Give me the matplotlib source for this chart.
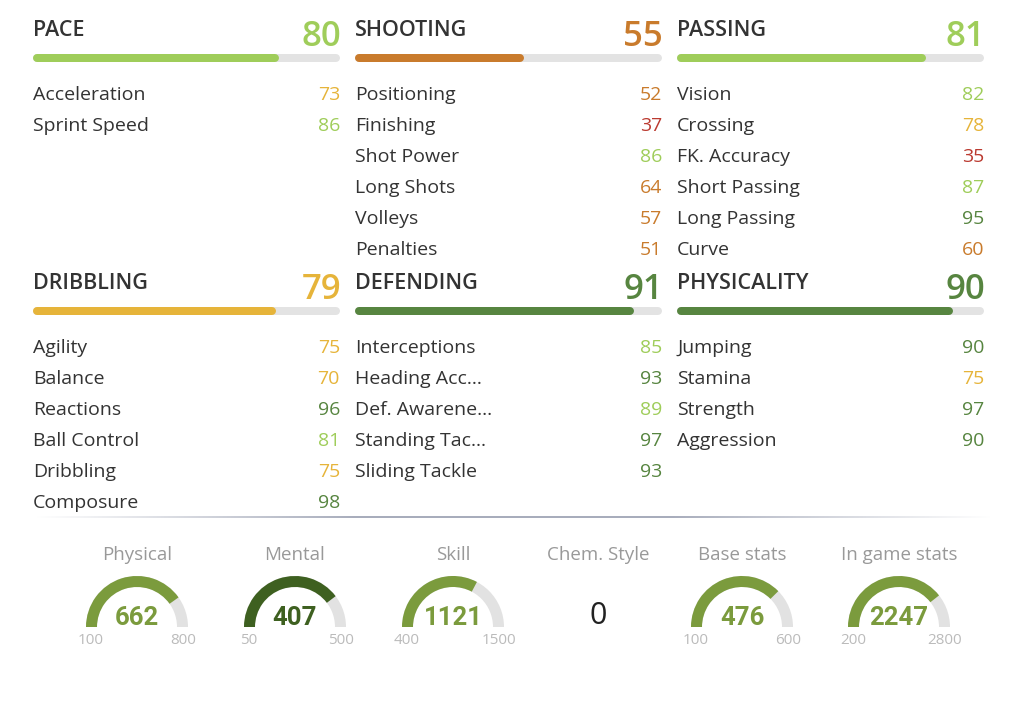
import numpy as np
import matplotlib
matplotlib.use("Agg")
import matplotlib.pyplot as plt
from matplotlib.patches import Wedge

plt.rcParams['font.family'] = ['Open Sans', 'DejaVu Sans']

# ---- data ----
sections = ["PACE", "SHOOTING", "PASSING", "DRIBBLING", "DEFENDING", "PHYSICALITY"]
section_values = [80, 55, 81, 79, 91, 90]

pace_names = ["Acceleration", "Sprint Speed"]
pace_values = [73, 86]
shooting_names = ["Positioning", "Finishing", "Shot Power", "Long Shots", "Volleys", "Penalties"]
shooting_values = [52, 37, 86, 64, 57, 51]
passing_names = ["Vision", "Crossing", "FK. Accuracy", "Short Passing", "Long Passing", "Curve"]
passing_values = [82, 78, 35, 87, 95, 60]
dribbling_names = ["Agility", "Balance", "Reactions", "Ball Control", "Dribbling", "Composure"]
dribbling_values = [75, 70, 96, 81, 75, 98]
defending_names = ["Interceptions", "Heading Acc…", "Def. Awarene…", "Standing Tac…", "Sliding Tackle"]
defending_values = [85, 93, 89, 97, 93]
physical_names = ["Jumping", "Stamina", "Strength", "Aggression"]
physical_values = [90, 75, 97, 90]

gauge_titles = ["Physical", "Mental", "Skill", "Chem. Style", "Base stats", "In game stats"]
gauge_values = [662, 407, 1121, 0, 476, 2247]
gauge_min = [100, 50, 400, None, 100, 200]
gauge_max = [800, 500, 1500, None, 600, 2800]
gauge_colors = ["#7b9b3d", "#3e6020", "#7b9b3d", None, "#7b9b3d", "#7b9b3d"]

names = [pace_names, shooting_names, passing_names, dribbling_names, defending_names, physical_names]
values = [pace_values, shooting_values, passing_values, dribbling_values, defending_values, physical_values]


def rating_color(v):
    if v >= 90:
        return "#578540"
    if v >= 80:
        return "#9fcd5a"
    if v >= 70:
        return "#e6b43a"
    if v >= 50:
        return "#c97b2c"
    return "#bb3a30"


fig = plt.figure(figsize=(10.24, 7.07), dpi=100)
ax = fig.add_axes([0, 0, 1, 1])
ax.set_xlim(0, 1024)
ax.set_ylim(707, 0)
ax.axis("off")

col_x = [33, 355, 677]
col_w = 307
block_y = [0, 253]
row_gap = 31
dark = "#333333"
bar_lw = 8 * 72 / 100

for i, sec in enumerate(sections):
    x0 = col_x[i % 3]
    y0 = block_y[i // 3]
    v = section_values[i]
    ax.text(x0, y0 + 36, sec, fontsize=15.5, fontweight="semibold", color=dark, va="baseline")
    ax.text(x0 + col_w + 1, y0 + 46, str(v), fontsize=25, fontweight="semibold",
            color=rating_color(v), ha="right", va="baseline")
    by = y0 + 57.5
    r = 4
    ax.plot([x0 + r, x0 + col_w - r], [by, by], color="#e3e3e3", lw=bar_lw, solid_capstyle="round")
    ax.plot([x0 + r, x0 + col_w * v / 100 - r], [by, by], color=rating_color(v), lw=bar_lw,
            solid_capstyle="round")
    for j, (n, val) in enumerate(zip(names[i], values[i])):
        yy = y0 + 100 + j * row_gap
        ax.text(x0, yy, n, fontsize=14, color=dark, va="baseline")
        ax.text(x0 + col_w, yy, str(val), fontsize=14, color=rating_color(val), ha="right", va="baseline")

# separator with faded ends
grad = np.linspace(0, 1, 600)
alpha = np.clip(np.minimum(grad, 1 - grad) * 3.0, 0, 1)
rgba = np.zeros((1, 600, 4))
rgba[..., 0] = 0.66
rgba[..., 1] = 0.68
rgba[..., 2] = 0.74
rgba[..., 3] = alpha
ax.imshow(rgba, extent=[35, 992, 518.5, 516.5], aspect="auto", interpolation="bilinear")

# gauges
gauge_x = [137, 295, 453, 598, 742, 899]
gcy = 627
r_out = 51
g_w = 11
for k, title in enumerate(gauge_titles):
    cx = gauge_x[k]
    ax.text(cx, 555, title, fontsize=13.5, color="#999999", ha="center", va="center")
    if gauge_min[k] is None:
        ax.text(cx, 616, str(gauge_values[k]), fontsize=22, color="#222222", ha="center", va="center")
        continue
    f = (gauge_values[k] - gauge_min[k]) / (gauge_max[k] - gauge_min[k])
    ax.add_patch(Wedge((cx, gcy), r_out, 180, 360, width=g_w, facecolor="#e2e2e2", edgecolor="none"))
    ax.add_patch(Wedge((cx, gcy), r_out, 180, 180 + 180 * f, width=g_w,
                       facecolor=gauge_colors[k], edgecolor="none"))
    ax.text(cx, 618, str(gauge_values[k]), fontsize=18.5, fontweight="bold", color=gauge_colors[k],
            ha="center", va="center", family=["Roboto", "DejaVu Sans"])
    ax.text(cx - 46, 641, str(gauge_min[k]), fontsize=11, color="#bbbbbb", ha="center", va="center")
    ax.text(cx + 46, 641, str(gauge_max[k]), fontsize=11, color="#bbbbbb", ha="center", va="center")

fig.savefig("out.png", dpi=100, facecolor="white")
